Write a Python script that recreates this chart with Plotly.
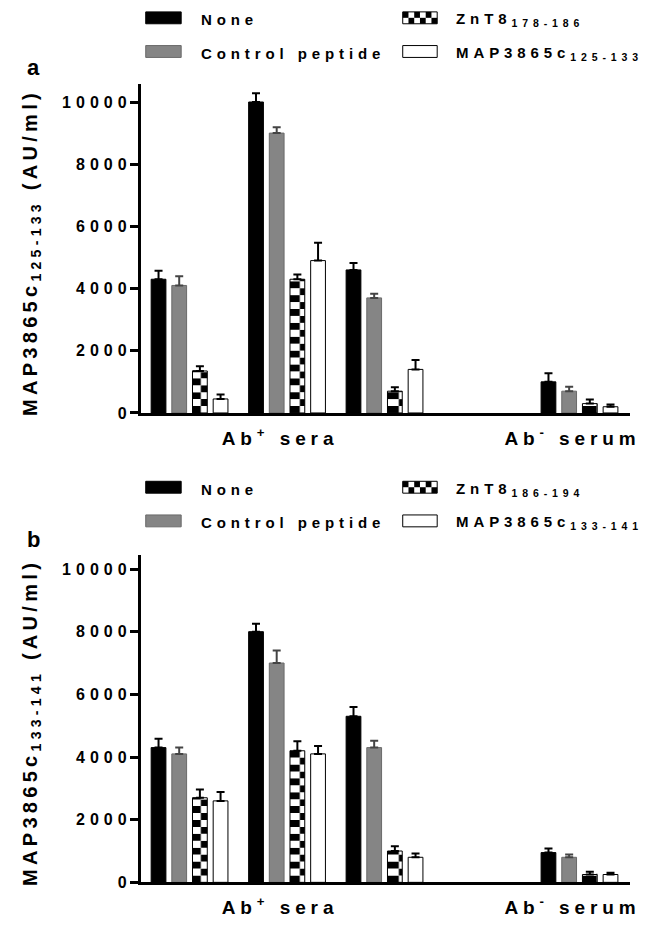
import plotly.graph_objects as go

# ---------------- data ----------------
groups = ["Ab+ serum 1", "Ab+ serum 2", "Ab+ serum 3", "Ab- serum"]
group_slot = [0, 1, 2, 4]          # slot 3 on the axis is left empty
n_slots = 5

series = ["None", "Control peptide", "ZnT8", "MAP3865c"]

a_none = [4300, 10000, 4600, 1000]
a_none_err = [270, 280, 220, 280]
a_ctrl = [4100, 9000, 3700, 700]
a_ctrl_err = [300, 190, 130, 140]
a_znt8 = [1350, 4300, 700, 300]
a_znt8_err = [150, 150, 130, 130]
a_map = [450, 4900, 1400, 200]
a_map_err = [140, 570, 300, 70]

b_none = [4300, 8000, 5300, 950]
b_none_err = [280, 250, 300, 130]
b_ctrl = [4100, 7000, 4300, 800]
b_ctrl_err = [200, 400, 220, 90]
b_znt8 = [2700, 4200, 1000, 250]
b_znt8_err = [260, 300, 150, 90]
b_map = [2600, 4100, 800, 250]
b_map_err = [280, 250, 120, 60]

legend_a = ["None", "Control peptide", "ZnT8<sub>178-186</sub>", "MAP3865c<sub>125-133</sub>"]
legend_b = ["None", "Control peptide", "ZnT8<sub>186-194</sub>", "MAP3865c<sub>133-141</sub>"]
y_title_a = "MAP3865c<sub>125-133</sub> (AU/ml)"
y_title_b = "MAP3865c<sub>133-141</sub> (AU/ml)"
y_ticks = [0, 2000, 4000, 6000, 8000, 10000]
x_labels = ["Ab<sup>+</sup> sera", "Ab<sup>-</sup> serum"]
x_label_slots = [1, 4]
panel_letters = ["a", "b"]

# ---------------- style / geometry ----------------
W, H = 652, 927
FONT = "Liberation Sans, Arial, Helvetica, sans-serif"
GRAY = "#858585"
GRAY_LINE = "#6a6a6a"

X0, X1 = 143, 640            # plot area left/right in px
SLOT_PX = (X1 - X0) / (n_slots + 0.02)
BAR_PX, STEP_PX, GROUP_LEFT_PX = 15, 21, -39
CHECK_PX = 7

def px(x):
    return x / W

def py(y):
    return 1 - y / H

def spaced(text, sp):
    return f'<span style="letter-spacing:{sp}px">{text}</span>'

panels = [
    dict(top=85, bottom=417, vals=[a_none, a_ctrl, a_znt8, a_map],
         errs=[a_none_err, a_ctrl_err, a_znt8_err, a_map_err],
         legend=legend_a, ytitle=y_title_a, letter_y=68, leg_y=[18, 52]),
    dict(top=560, bottom=891, vals=[b_none, b_ctrl, b_znt8, b_map],
         errs=[b_none_err, b_ctrl_err, b_znt8_err, b_map_err],
         legend=legend_b, ytitle=y_title_b, letter_y=545, leg_y=[492, 526]),
]
PX_PER_1000 = [31.4, 31.64]

fig = go.Figure()
shapes, annotations = [], []

for pi, p in enumerate(panels):
    xa = "x" if pi == 0 else "x2"
    ya = "y" if pi == 0 else "y2"
    ymax = (p["bottom"] - p["top"]) / PX_PER_1000[pi] * 1000
    p["ymax"] = ymax
    width_u = BAR_PX / SLOT_PX

    def offset(k):
        return (GROUP_LEFT_PX + STEP_PX * k) / SLOT_PX

    def err(e, color="black"):
        return dict(type="data", array=e, arrayminus=[0] * len(e), symmetric=False,
                    color=color, thickness=2, width=4)

    # None
    fig.add_trace(go.Bar(x=group_slot, y=p["vals"][0], xaxis=xa, yaxis=ya,
                         width=width_u, offset=offset(0), name=series[0],
                         marker=dict(color="black", line=dict(color="black", width=1)),
                         error_y=err(p["errs"][0]), showlegend=False))
    # Control peptide
    fig.add_trace(go.Bar(x=group_slot, y=p["vals"][1], xaxis=xa, yaxis=ya,
                         width=width_u, offset=offset(1), name=series[1],
                         marker=dict(color=GRAY, line=dict(color=GRAY_LINE, width=1)),
                         error_y=err(p["errs"][1], "#444"), showlegend=False))
    # ZnT8 checker: the bar is split into rows of CHECK_PX, each row a two-column stripe
    seg = CHECK_PX / (p["bottom"] - p["top"]) * ymax
    xs, bases, hs, fg, bg = [], [], [], [], []
    for s, v in zip(group_slot, p["vals"][2]):
        k = 0
        while k * seg < v - 1e-9:
            h = min(seg, v - k * seg)
            xs.append(s); bases.append(k * seg); hs.append(h)
            fg.append("black" if k % 2 == 0 else "white")
            bg.append("white" if k % 2 == 0 else "black")
            k += 1
    fig.add_trace(go.Bar(x=xs, y=hs, base=bases, xaxis=xa, yaxis=ya,
                         width=width_u, offset=offset(2),
                         marker=dict(color="white", line=dict(width=0),
                                     pattern=dict(shape="|", size=SLOT_PX,
                                                  solidity=10.5 / (SLOT_PX / 2),
                                                  fgcolor=fg, bgcolor=bg, fillmode="replace")),
                         showlegend=False, hoverinfo="skip"))
    fig.add_trace(go.Bar(x=group_slot, y=p["vals"][2], xaxis=xa, yaxis=ya,
                         width=width_u, offset=offset(2), name=series[2],
                         marker=dict(color="rgba(0,0,0,0)", line=dict(color="black", width=1)),
                         error_y=err(p["errs"][2]), showlegend=False))
    # MAP3865c
    fig.add_trace(go.Bar(x=group_slot, y=p["vals"][3], xaxis=xa, yaxis=ya,
                         width=width_u, offset=offset(3), name=series[3],
                         marker=dict(color="white", line=dict(color="black", width=1)),
                         error_y=err(p["errs"][3]), showlegend=False))

    # legend (drawn manually to match the wide swatches)
    cols = [(148, 184, 204), (409, 444, 463)]
    rows = p["leg_y"]
    items = [(0, 0, "black"), (0, 1, "gray"), (1, 0, "check"), (1, 1, "white")]
    for (ci, ri, kind), label in zip(items, p["legend"]):
        x_a, x_b, tx = cols[ci]
        yc = rows[ri]
        y_a, y_b = yc - 6, yc + 6
        fill = {"black": "black", "gray": GRAY, "white": "white", "check": "white"}[kind]
        lc = GRAY_LINE if kind == "gray" else "black"
        shapes.append(dict(type="rect", xref="paper", yref="paper", x0=px(x_a), x1=px(x_b),
                           y0=py(y_b), y1=py(y_a), fillcolor=fill, line=dict(color=lc, width=1)))
        if kind == "check":
            sq = (x_b - x_a) / 6
            for c in range(6):
                for r in range(2):
                    if (c + r) % 2 == 0:
                        shapes.append(dict(type="rect", xref="paper", yref="paper",
                                           x0=px(x_a + c * sq), x1=px(x_a + (c + 1) * sq),
                                           y0=py(y_a + (r + 1) * 6), y1=py(y_a + r * 6),
                                           fillcolor="black", line=dict(width=0)))
        annotations.append(dict(xref="paper", yref="paper", x=px(tx - 2), y=py(yc + 2),
                                xanchor="left", yanchor="middle", showarrow=False,
                                text=spaced(label, 4.9),
                                font=dict(family=FONT, size=15, color="black", weight="bold")))

    # y title
    annotations.append(dict(xref="paper", yref="paper", x=px(32),
                            y=py((p["top"] + 8 + p["bottom"]) / 2),
                            xanchor="center", yanchor="middle", showarrow=False, textangle=-90,
                            text=spaced(p["ytitle"], 4.3),
                            font=dict(family=FONT, size=20, color="black", weight="bold")))
    # panel letter
    annotations.append(dict(xref="paper", yref="paper", x=px(34), y=py(p["letter_y"]),
                            xanchor="center", yanchor="middle", showarrow=False,
                            text=panel_letters[pi],
                            font=dict(family=FONT, size=22, color="black", weight="bold")))

axis_common = dict(showgrid=False, zeroline=False, showline=True, linecolor="black",
                   linewidth=3)
ya_dom = [[py(p["bottom"]), py(p["top"])] for p in panels]

layout_axes = {}
for pi, p in enumerate(panels):
    xk = "xaxis" if pi == 0 else "xaxis2"
    yk = "yaxis" if pi == 0 else "yaxis2"
    layout_axes[xk] = dict(axis_common, domain=[px(X0), px(X1)], range=[-0.5, n_slots - 0.48],
                           anchor="y" if pi == 0 else "y2", ticks="",
                           tickvals=x_label_slots, ticktext=[spaced(t, 4.9) for t in x_labels],
                           ticklabelshift=-7, ticklabelstandoff=6,
                           tickfont=dict(family=FONT, size=19, color="black", weight="bold"))
    layout_axes[yk] = dict(axis_common, domain=ya_dom[pi], range=[0, p["ymax"]],
                           anchor="x" if pi == 0 else "x2", ticks="outside", ticklen=8,
                           tickwidth=2.5, tickcolor="black",
                           tickvals=y_ticks, ticktext=[spaced(str(v), 5) for v in y_ticks],
                           ticklabelstandoff=-5,
                           tickfont=dict(family=FONT, size=16, color="black", weight="bold"))

fig.update_layout(
    width=W, height=H,
    margin=dict(l=0, r=0, t=0, b=0),
    paper_bgcolor="white", plot_bgcolor="white",
    barmode="overlay",
    shapes=shapes, annotations=annotations,
    font=dict(family=FONT, color="black"),
    **layout_axes,
)

fig.write_html("out.html", config={"displayModeBar": False},
               post_script="document.body.style.margin='0px';")
